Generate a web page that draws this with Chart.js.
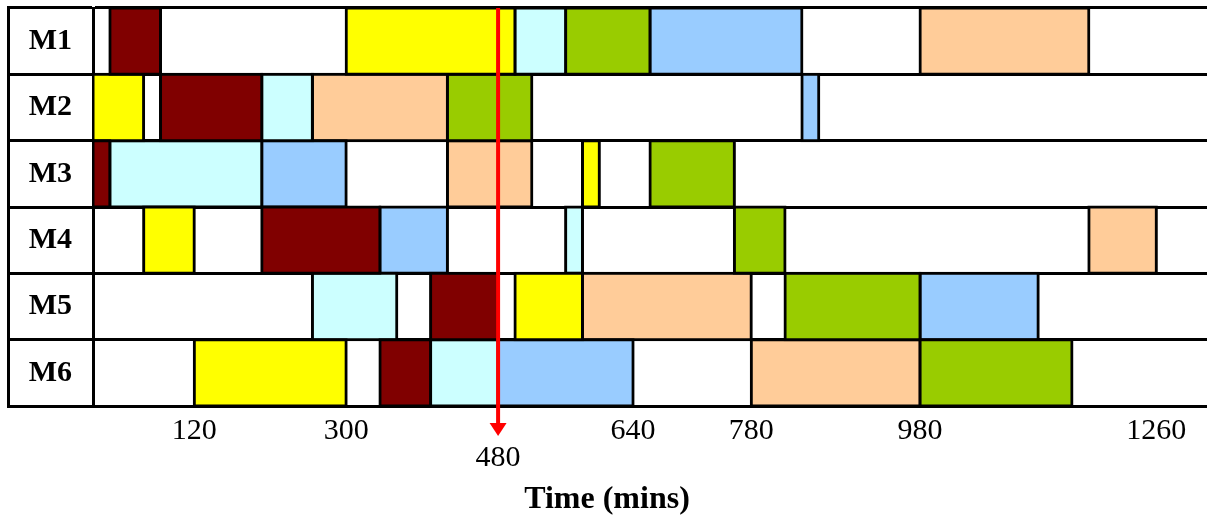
<!DOCTYPE html>
<html>
<head>
<meta charset="utf-8">
<script src="https://cdn.jsdelivr.net/npm/chart.js@4"></script>
<style>
  html, body { margin: 0; padding: 0; background: #fff; }
  #wrap { width: 1207px; height: 517px; }
</style>
</head>
<body>
<div id="wrap"><canvas id="c" width="1207" height="517"></canvas></div>
<script>
// ---- Data ----
const machines = ['M1', 'M2', 'M3', 'M4', 'M5', 'M6'];
const tickValues = [120, 300, 480, 640, 780, 980, 1260];
const markTime = 480;
const axisMax = 1320;

// [start, end] per machine (M1..M6) for each job
const job1 = [[20, 80], [80, 200], [0, 20], [200, 340], [400, 480], [340, 400]];      // maroon
const job2 = [[300, 500], [0, 60], [580, 600], [60, 120], [500, 580], [120, 300]];    // yellow
const job3 = [[500, 560], [200, 260], [20, 200], [560, 580], [260, 360], [400, 480]]; // light cyan
const job4 = [[560, 660], [420, 520], [660, 760], [760, 820], [820, 980], [980, 1160]]; // green
const job5 = [[660, 840], [840, 860], [200, 300], [340, 420], [980, 1120], [480, 640]]; // light blue
const job6 = [[980, 1180], [260, 420], [420, 520], [1180, 1260], [580, 780], [780, 980]]; // peach

const jobNames = ['J1', 'J2', 'J3', 'J4', 'J5', 'J6'];
const jobData = [job1, job2, job3, job4, job5, job6];
const jobColors = ['#800000', '#FFFF00', '#CCFFFF', '#99CC00', '#99CCFF', '#FFCC99'];

const datasets = jobData.map((d, i) => ({
  label: jobNames[i],
  data: d,
  backgroundColor: jobColors[i],
  borderColor: '#000',
  borderWidth: 3,
  borderSkipped: false,
  inflateAmount: 1.5,
  grouped: false,
  barPercentage: 1,
  categoryPercentage: 1
}));

const decor = {
  id: 'decor',
  afterDraw(chart) {
    const ctx = chart.ctx;
    const ca = chart.chartArea;
    const ys = chart.scales.y;
    const xs = chart.scales.x;
    ctx.save();
    // outer left border of label column
    ctx.strokeStyle = '#000';
    ctx.lineWidth = 3;
    ctx.beginPath();
    ctx.moveTo(ys.left + 1.5, ca.top - 1.5);
    ctx.lineTo(ys.left + 1.5, ca.bottom + 1.5);
    ctx.stroke();
    // red marker arrow
    const px = xs.getPixelForValue(markTime);
    const tipY = ca.bottom + 30;
    const headH = 13, headW = 8.5;
    ctx.strokeStyle = '#FF0000';
    ctx.fillStyle = '#FF0000';
    ctx.lineWidth = 4;
    ctx.beginPath();
    ctx.moveTo(px, ca.top);
    ctx.lineTo(px, tipY - headH + 1);
    ctx.stroke();
    ctx.beginPath();
    ctx.moveTo(px - headW, tipY - headH);
    ctx.lineTo(px + headW, tipY - headH);
    ctx.lineTo(px, tipY);
    ctx.closePath();
    ctx.fill();
    ctx.restore();
  }
};

new Chart(document.getElementById('c'), {
  type: 'bar',
  data: { labels: machines, datasets },
  plugins: [decor],
  options: {
    indexAxis: 'y',
    responsive: false,
    animation: false,
    layout: { padding: { left: 7, top: 8, right: 0, bottom: 0 } },
    plugins: {
      legend: { display: false },
      tooltip: { enabled: false },
      title: {
        display: true,
        position: 'bottom',
        text: 'Time (mins)',
        color: '#000',
        font: { family: 'Liberation Serif', size: 32, weight: 'bold', lineHeight: 1.0 },
        padding: { top: 0, bottom: 1 }
      }
    },
    scales: {
      x: {
        type: 'linear',
        min: 0,
        max: axisMax,
        afterBuildTicks: (axis) => { axis.ticks = tickValues.map(v => ({ value: v })); },
        grid: { display: false, drawTicks: false },
        border: { display: true, color: '#000', width: 3 },
        ticks: {
          autoSkip: false,
          maxRotation: 0,
          minRotation: 0,
          padding: 12,
          color: '#000',
          font: { family: 'Liberation Serif', size: 30, lineHeight: 0.9 },
          callback: (v) => v === markTime ? ['', String(v)] : String(v)
        }
      },
      y: {
        type: 'category',
        offset: true,
        afterFit: (axis) => { axis.width = 86; },
        grid: {
          offset: true,
          color: '#000',
          lineWidth: 3,
          drawTicks: true,
          tickLength: 86,
          tickWidth: 3,
          tickColor: '#000'
        },
        border: { display: true, color: '#000', width: 3 },
        ticks: {
          padding: -65,
          color: '#000',
          font: { family: 'Liberation Serif', size: 30, weight: 'bold' }
        }
      }
    }
  }
});
</script>
</body>
</html>
